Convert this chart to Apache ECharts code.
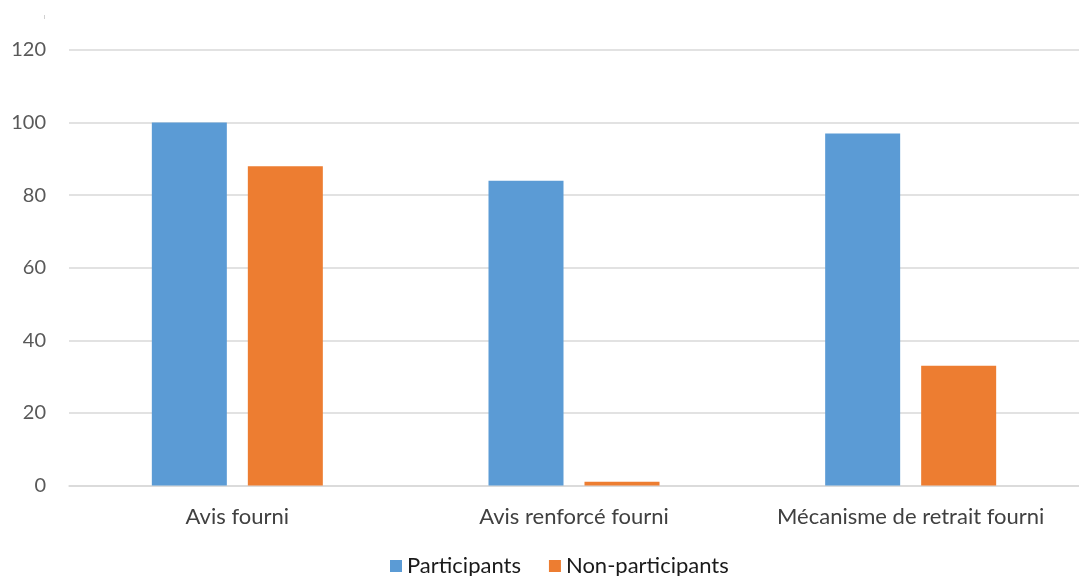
<!DOCTYPE html>
<html>
<head>
<meta charset="utf-8">
<script src="https://cdn.jsdelivr.net/npm/echarts@6/dist/echarts.min.js"></script>
<style>
  html, body { margin: 0; padding: 0; background: #fff; }
  #chart { width: 1079px; height: 576px; }
</style>
</head>
<body>
<div id="chart"></div>
<script>
// Categories and series values
const categories = ['Avis fourni', 'Avis renforcé fourni', 'Mécanisme de retrait fourni'];
const participants = [100, 84, 97];
const nonParticipants = [88, 1, 33];
const seriesNames = ['Participants', 'Non-participants'];

const chart = echarts.init(document.getElementById('chart'), null, { renderer: 'canvas' });
const font = 'Lato, "Open Sans", sans-serif';

chart.setOption({
  animation: false,
  backgroundColor: '#ffffff',
  textStyle: { fontFamily: font },
  grid: { left: 69, right: 0, top: 50, bottom: 90.5, containLabel: false },
  legend: {
    data: seriesNames,
    bottom: -1,
    left: 390,
    itemWidth: 12,
    itemHeight: 12,
    itemGap: 28,
    icon: 'rect',
    padding: 0,
    textStyle: { fontSize: 22, color: '#1a1a1a', fontFamily: font }
  },
  xAxis: {
    type: 'category',
    data: categories,
    axisLine: { show: true, lineStyle: { color: '#d9d9d9', width: 1.5 } },
    axisTick: { show: false },
    axisLabel: { interval: 0, hideOverlap: false, fontSize: 22, color: '#404040', margin: 20, fontFamily: font }
  },
  yAxis: {
    type: 'value',
    min: 0,
    max: 120,
    interval: 20,
    axisLine: { show: false },
    axisTick: { show: false },
    axisLabel: { fontSize: 20, color: '#595959', margin: 23, fontFamily: font },
    splitLine: { lineStyle: { color: '#d9d9d9', width: 1.5 } }
  },
  series: [
    {
      name: seriesNames[0],
      type: 'bar',
      data: participants,
      barWidth: 75,
      barGap: '28%',
      itemStyle: { color: '#5B9BD5' }
    },
    {
      name: seriesNames[1],
      type: 'bar',
      data: nonParticipants,
      barWidth: 75,
      barGap: '28%',
      itemStyle: { color: '#ED7D31' }
    }
  ],
  graphic: [
    { type: 'rect', left: 44, top: 15, shape: { width: 1, height: 4 }, style: { fill: '#d0d0d0' } }
  ]
});
</script>
</body>
</html>
